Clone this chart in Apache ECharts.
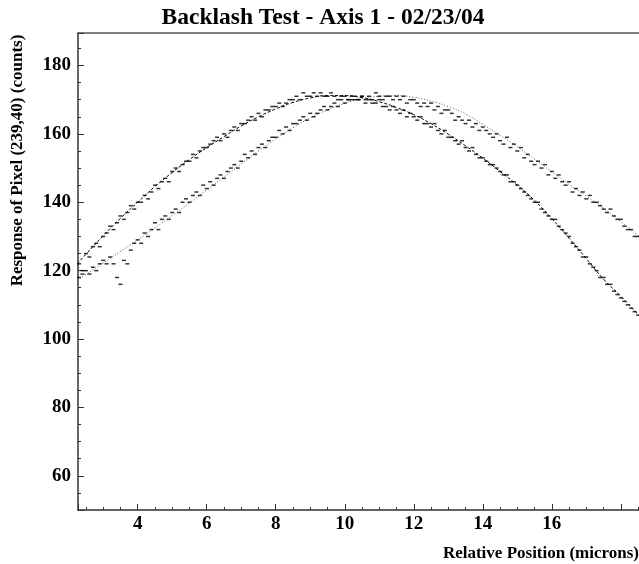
<!DOCTYPE html>
<html>
<head>
<meta charset="utf-8">
<script src="https://cdn.jsdelivr.net/npm/echarts@6/dist/echarts.min.js"></script>
<style>
html,body{margin:0;padding:0;background:#fff;}
#chart{width:639px;height:564px;}
</style>
</head>
<body>
<div id="chart"></div>
<script>
// Positions (microns) of the measured samples
var positions = [
2.3,2.4,2.5,2.6,2.7,2.8,2.9,3.0,3.1,3.2,3.3,3.4,3.5,3.6,3.7,3.8,3.9,4.0,4.1,4.2,4.3,4.4,4.5,4.6,4.7,4.8,4.9,
5.0,5.1,5.2,5.3,5.4,5.5,5.6,5.7,5.8,5.9,6.0,6.1,6.2,6.3,6.4,6.5,6.6,6.7,6.8,6.9,7.0,7.1,7.2,7.3,7.4,7.5,7.6,7.7,7.8,7.9,
8.0,8.1,8.2,8.3,8.4,8.5,8.6,8.7,8.8,8.9,9.0,9.1,9.2,9.3,9.4,9.5,9.6,9.7,9.8,9.9,10.0,10.1,10.2,10.3,10.4,10.5,10.6,10.7,10.8,10.9,
11.0,11.1,11.2,11.3,11.4,11.5,11.6,11.7,11.8,11.9,12.0,12.1,12.2,12.3,12.4,12.5,12.6,12.7,12.8,12.9,13.0,13.1,13.2,13.3,13.4,13.5,13.6,13.7,13.8,13.9,
14.0,14.1,14.2,14.3,14.4,14.5,14.6,14.7,14.8,14.9,15.0,15.1,15.2,15.3,15.4,15.5,15.6,15.7,15.8,15.9,16.0,16.1,16.2,16.3,16.4,16.5,16.6,16.7,16.8,16.9,
17.0,17.1,17.2,17.3,17.4,17.5,17.6,17.7,17.8,17.9,18.0,18.1,18.2,18.3,18.4,18.5
];
// Forward scan counts
var forwardCounts = [
122,120,125,124,127,128,127,130,131,133,132,134,136,135,137,139,138,140,140,142,141,143,145,144,146,147,146,
149,150,149,151,152,152,154,153,155,156,156,157,158,159,158,160,159,161,162,161,163,163,164,165,164,166,165,167,167,168,
168,169,168,169,170,170,171,170,172,171,171,172,171,172,171,171,172,171,170,171,171,170,171,170,170,171,169,170,169,169,
170,168,168,167,168,167,166,167,165,166,165,164,165,163,163,162,163,161,160,161,159,159,158,157,158,156,155,156,154,153,
153,152,151,151,150,149,148,148,146,146,145,144,143,142,141,140,140,138,137,136,135,135,133,132,131,130,128,127,126,124,
124,122,121,120,118,118,116,116,114,113,112,111,110,109,108,107
];
// Backward scan counts
var backwardCounts = [
118,119,120,119,121,120,122,123,122,124,122,118,116,123,122,126,128,129,128,131,130,132,134,132,135,136,135,
137,138,137,140,141,140,142,143,142,145,144,146,145,147,148,147,149,150,151,150,152,154,153,155,154,156,157,156,158,159,
159,161,160,162,161,163,163,164,165,164,166,165,166,167,168,167,168,169,168,170,169,170,170,171,170,171,170,171,170,172,
171,170,171,171,170,171,170,171,169,170,170,169,168,169,168,169,167,168,166,167,167,166,164,165,164,163,164,162,163,161,
162,161,160,159,160,158,157,159,156,157,155,156,153,154,152,151,152,150,151,148,149,147,148,146,145,146,143,144,142,143,
141,142,140,140,139,138,137,138,136,135,135,133,132,132,130,130
];
// Fitted curves
var fitPositions = [2.25,2.5,3.0,3.5,4.0,4.5,5.0,5.5,6.0,6.5,7.0,7.5,8.0,8.5,9.0,9.5,10.0,10.5,11.0,11.5,12.0,12.5,13.0,13.5,14.0,14.5,15.0,15.5,16.0,16.5,17.0,17.5,18.0,18.5,19.0];
var forwardFit = [122.0,124.8,130.2,135.3,140.0,144.6,148.7,152.5,156.0,159.2,162.3,165.0,167.3,169.2,170.5,171.2,171.2,170.6,169.4,167.7,165.6,163.0,159.9,156.5,152.9,149.0,145.0,140.5,135.2,129.5,123.5,117.5,112.5,107.2,101.5];
var backwardFit = [117.3,118.9,122.2,125.6,129.0,132.5,136.1,139.8,143.6,147.4,151.2,155.0,158.5,161.8,164.7,167.0,168.9,170.3,171.0,171.2,170.7,169.6,168.0,165.8,162.8,159.6,156.2,152.6,148.9,145.2,141.8,138.2,134.3,130.2,126.0];

var titleText = 'Backlash Test - Axis 1 - 02/23/04';
var xName = 'Relative Position (microns)';
var yName = 'Response of Pixel (239,40) (counts)';

function pairs(xs, ys){ return xs.map(function(x,i){ return [x, ys[i]]; }); }

var FONT = '"Liberation Serif","Times New Roman",serif';
var chart = echarts.init(document.getElementById('chart'), null, {renderer:'canvas'});
var axisCommon = {
  axisLine:{show:true, lineStyle:{color:'#333', width:1.5}},
  axisTick:{show:true, inside:true, length:6, lineStyle:{color:'#333', width:1}},
  minorTick:{show:true, splitNumber:4, length:3, lineStyle:{color:'#333', width:1}},
  splitLine:{show:false},
  minorSplitLine:{show:false}
};
chart.setOption({
  animation:false,
  backgroundColor:'#fff',
  title:{text:titleText, left:318, textAlign:'center', top:1,
    textStyle:{fontFamily:FONT, fontWeight:'bold', fontSize:23.5, color:'#000'}},
  grid:{left:78, top:33, right:-6, bottom:54, containLabel:false, outerBoundsMode:'none'},
  xAxis:[Object.assign({}, axisCommon, {
    type:'value', min:2.27, max:18.7, splitNumber:8,
    name:xName, nameLocation:'end', nameGap:0,
    nameTextStyle:{fontFamily:FONT, fontWeight:'bold', fontSize:17, color:'#000', align:'right', verticalAlign:'top', padding:[35,6,0,0]},
    axisLabel:{fontFamily:FONT, fontWeight:'bold', fontSize:19, color:'#000', margin:5, showMinLabel:false, showMaxLabel:false,
      formatter:function(v){ return v > 17 ? '' : String(v); }}
  }), {
    type:'value', position:'top', min:2.27, max:18.7,
    axisLine:{show:true, lineStyle:{color:'#555', width:1.5}}, axisTick:{show:false}, axisLabel:{show:false}, splitLine:{show:false}
  }],
  yAxis:Object.assign({}, axisCommon, {
    type:'value', min:50, max:189.5, splitNumber:7,
    name:yName, nameLocation:'middle', nameRotate:90, nameGap:52,
    nameTextStyle:{fontFamily:FONT, fontWeight:'bold', fontSize:17, color:'#000', padding:[0,0,0,222]},
    axisLabel:{fontFamily:FONT, fontWeight:'bold', fontSize:19, color:'#000', margin:7, showMinLabel:false, showMaxLabel:false}
  }),
  series:[
    {type:'line', name:'forward fit', data:pairs(fitPositions, forwardFit), smooth:true, showSymbol:false, symbol:'none',
      lineStyle:{color:'#000', width:1, type:[3,2]}, clip:true, z:2},
    {type:'line', name:'backward fit', data:pairs(fitPositions, backwardFit), smooth:true, showSymbol:false, symbol:'none',
      lineStyle:{color:'#555', width:1, type:[1,2]}, clip:true, z:2},
    {type:'scatter', name:'forward', data:pairs(positions, forwardCounts), symbol:'rect', symbolSize:[4,1.5],
      itemStyle:{color:'#000'}, clip:true, z:3},
    {type:'scatter', name:'backward', data:pairs(positions, backwardCounts), symbol:'rect', symbolSize:[4,1.5],
      itemStyle:{color:'#000'}, clip:true, z:3}
  ]
});
</script>
</body>
</html>
